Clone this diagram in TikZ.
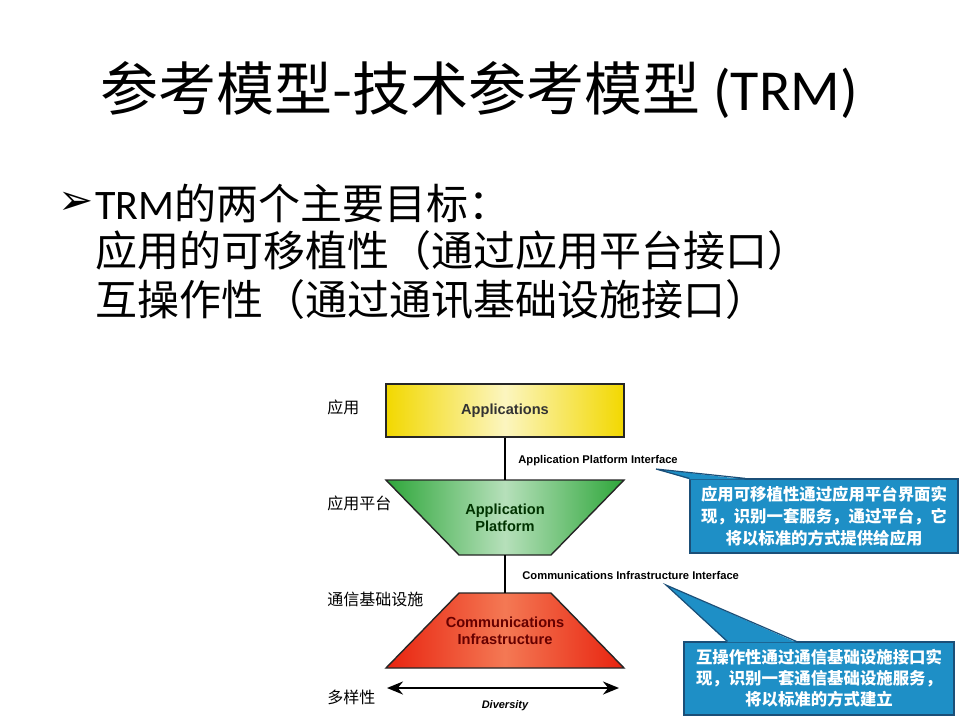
\documentclass[tikz,border=0pt]{standalone}
\usepackage{fontspec}
\setmainfont{Carlito}
\setsansfont{Liberation Sans}
\newfontfamily\cjk{Noto Sans CJK SC}
\newfontfamily\dingfont{DejaVu Sans}
\usepackage{tikz}
\usetikzlibrary{arrows.meta,calc}
\definecolor{appyel}{HTML}{F2D800}
\definecolor{platgrn}{HTML}{2EA63A}
\definecolor{commred}{HTML}{E8230F}
\definecolor{notefill}{HTML}{1E8FC6}
\definecolor{notebd}{HTML}{1B4F78}

\begin{document}
\begin{tikzpicture}[x=0.5pt,y=-0.5pt,>=Stealth,
  layer/.style={font=\sffamily\bfseries\fontsize{7.3}{8.6}\selectfont,align=center,inner sep=0pt},
  rim/.style={draw=black!85,line width=0.7pt},
  iface/.style={font=\sffamily\bfseries\fontsize{5.6}{6.6}\selectfont,anchor=west,inner sep=0pt},
  tag/.style={font=\cjk\fontsize{8}{9}\selectfont,anchor=west,inner sep=0pt},
  note/.style={draw=notebd,line width=0.6pt,fill=notefill,text=white,font=\cjk\bfseries\fontsize{8.2}{11}\selectfont,align=center,inner sep=0pt},
  goal/.style={font=\fontsize{21}{24}\selectfont,anchor=west,inner sep=0pt}]
\useasboundingbox[fill=white] (0,0) rectangle (960,720);
% title and goals
\node[font=\fontsize{29}{33}\selectfont] (title) at (479,90) {{\cjk 参考模型-技术参考模型} (TRM)};
\node[font=\dingfont\fontsize{21}{24}\selectfont,inner sep=0pt] (bullet) at (76,203) {➢};
\node[goal] (goal1) at (95,203) {TRM{\cjk 的两个主要目标：}};
\node[goal] (goal2) at (95,251) {\cjk 应用的可移植性（通过应用平台接口）};
\node[goal] (goal3) at (95,300) {\cjk 互操作性（通过通讯基础设施接口）};
% the three layers
\node[layer,rim,minimum width=119pt,minimum height=26.5pt,left color=appyel,right color=appyel,middle color=appyel!25!white,text=black!80] (apps) at (505,410.5) {Applications};
\coordinate (platc) at (505,517.5);
\coordinate (commc) at (505,630.5);
\path[rim,left color=platgrn,right color=platgrn,middle color=platgrn!35!white]
  ($(platc)+(-119,-37.5)$) -- ($(platc)+(119,-37.5)$) -- ($(platc)+(46,37.5)$) -- ($(platc)+(-46,37.5)$) -- cycle;
\path[rim,left color=commred,right color=commred,middle color=commred!70!orange!70!white]
  ($(commc)+(-46,-37.5)$) -- ($(commc)+(46,-37.5)$) -- ($(commc)+(119,37.5)$) -- ($(commc)+(-119,37.5)$) -- cycle;
\node[layer,minimum width=119pt,minimum height=37.5pt,text=black!80!green] (plat) at (platc) {Application\\Platform};
\node[layer,minimum width=119pt,minimum height=37.5pt,text=black!60!red] (comm) at (commc) {Communications\\Infrastructure};
\draw[line width=0.6pt] (apps.south) -- (plat.north);
\draw[line width=0.6pt] (plat.south) -- (comm.north);
\node[iface] (api) at (518,461) {Application Platform Interface};
\node[iface] (cii) at (522,575) {Communications Infrastructure Interface};
% diversity
\coordinate (divl) at (387,688);
\coordinate (divr) at (619,688);
\draw[line width=1pt,{Stealth[length=8pt,width=6.5pt]}-{Stealth[length=8pt,width=6.5pt]}] (divl) -- (divr);
\node[font=\sffamily\bfseries\itshape\fontsize{5.5}{6.5}\selectfont] (div) at (505,706) {Diversity};
% left tags
\node[tag] (t1) at (327,407) {应用};
\node[tag] (t2) at (327,503) {应用平台};
\node[tag] (t3) at (327,599) {通信基础设施};
\node[tag] (t4) at (327,697) {多样性};
% callouts
\node[note,minimum width=134pt,minimum height=37pt] (note1) at (824,516) {应用可移植性通过应用平台界面实\\现，识别一套服务，通过平台，它\\将以标准的方式提供给应用};
\node[note,font=\cjk\bfseries\fontsize{8.2}{10.5}\selectfont,minimum width=135pt,minimum height=36.5pt] (note2) at (819,678.5) {互操作性通过通信基础设施接口实\\现，识别一套通信基础设施服务，\\将以标准的方式建立};
\coordinate (tip1) at (656,469);
\coordinate (tip2) at (666,585);
\fill[notefill] ($(note1.north west)+(0.6,1)$) -- (tip1) -- ($(note1.north west)+(56,1)$) -- cycle;
\draw[notebd,line width=0.6pt] ($(note1.north west)+(0,0)$) -- (tip1) -- ($(note1.north west)+(56,0)$);
\fill[notefill] ($(note2.north west)+(44,1)$) -- (tip2) -- ($(note2.north west)+(113,1)$) -- cycle;
\draw[notebd,line width=0.6pt] ($(note2.north west)+(44,0)$) -- (tip2) -- ($(note2.north west)+(113,0)$);
\end{tikzpicture}
\end{document}
